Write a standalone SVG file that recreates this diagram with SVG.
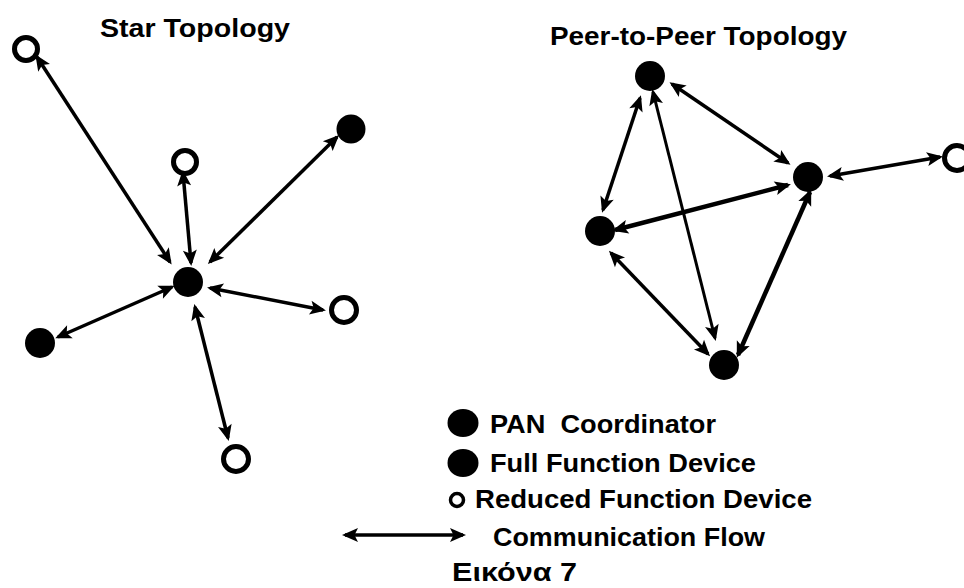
<svg xmlns="http://www.w3.org/2000/svg" width="964" height="588" viewBox="0 0 964 588">
  <style>
    .lbl { font-family: "Liberation Sans", Arial, Helvetica, sans-serif; font-weight: bold; fill: #000; white-space: pre; }
    .title { font-size: 26px; }
    .leg { font-size: 26px; }
    .full { fill: #000; }
    .rfd { fill: #fff; stroke: #000; stroke-width: 5; }
    .flow { stroke: #000; stroke-width: 3.5; fill: none; marker-start: url(#tip); marker-end: url(#tip); }
    .thick { stroke-width: 4.5; }
    .thin { stroke-width: 3; }
  </style>
  <defs>
    <marker id="tip" markerUnits="userSpaceOnUse" markerWidth="18" markerHeight="16" refX="13" refY="7" orient="auto-start-reverse" overflow="visible">
      <path d="M0,0 L16,7 L0,14 L3.5,7 Z" fill="#000"/>
    </marker>
  </defs>
  <rect width="964" height="588" fill="#fff"/>

  <!-- titles -->
  <text class="lbl title" x="100" y="37" textLength="190" lengthAdjust="spacingAndGlyphs">Star Topology</text>
  <text class="lbl title" x="550" y="45" textLength="297" lengthAdjust="spacingAndGlyphs">Peer-to-Peer Topology</text>

  <!-- communication flows -->
  <g id="connectors">
    <!-- star -->
    <line class="flow" x1="37" y1="57" x2="170" y2="262"/>
    <line class="flow" x1="183" y1="173" x2="191" y2="263"/>
    <line class="flow" x1="337" y1="137" x2="210" y2="262"/>
    <line class="flow" x1="58" y1="337" x2="172" y2="287"/>
    <line class="flow" x1="210" y1="288" x2="323" y2="310"/>
    <line class="flow" x1="195" y1="307" x2="228" y2="438"/>
    <!-- peer-to-peer -->
    <line class="flow" x1="640" y1="98" x2="603" y2="210"/>
    <line class="flow" x1="672" y1="84" x2="788" y2="163"/>
    <line class="flow thin" x1="653" y1="92" x2="715" y2="338"/>
    <line class="flow thick" x1="615" y1="230" x2="788" y2="185"/>
    <line class="flow" x1="830" y1="176" x2="940" y2="157"/>
    <line class="flow thick" x1="810" y1="192" x2="738" y2="355"/>
    <line class="flow" x1="611" y1="253" x2="708" y2="354"/>
  </g>

  <!-- star topology nodes -->
  <g id="star-coordinator"><circle class="full" cx="188" cy="282" r="15"/></g>
  <g id="star-rfd-topleft"><circle class="rfd" cx="26" cy="49" r="11.5"/></g>
  <g id="star-rfd-top"><circle class="rfd" cx="185" cy="162" r="11.5"/></g>
  <g id="star-ffd-topright"><circle class="full" cx="351" cy="129" r="14.5"/></g>
  <g id="star-ffd-left"><circle class="full" cx="40" cy="343" r="15"/></g>
  <g id="star-rfd-right"><circle class="rfd" cx="344" cy="310" r="12.5"/></g>
  <g id="star-rfd-bottom"><circle class="rfd" cx="236" cy="459" r="12.5"/></g>

  <!-- peer-to-peer nodes -->
  <g id="p2p-top"><circle class="full" cx="650" cy="76" r="15"/></g>
  <g id="p2p-right"><circle class="full" cx="808" cy="177" r="15"/></g>
  <g id="p2p-left"><circle class="full" cx="600" cy="231" r="15"/></g>
  <g id="p2p-bottom"><circle class="full" cx="724" cy="365" r="15"/></g>
  <g id="p2p-rfd"><circle class="rfd" cx="957" cy="158" r="12.5"/></g>

  <!-- legend -->
  <g id="legend-pan">
    <ellipse class="full" cx="463" cy="423" rx="15.5" ry="14"/>
    <text class="lbl leg" x="490" y="433" textLength="226" lengthAdjust="spacingAndGlyphs">PAN  Coordinator</text>
  </g>
  <g id="legend-ffd">
    <ellipse class="full" cx="463" cy="463" rx="15.5" ry="14"/>
    <text class="lbl leg" x="490" y="472" textLength="266" lengthAdjust="spacingAndGlyphs">Full Function Device</text>
  </g>
  <g id="legend-rfd">
    <circle class="rfd" cx="457" cy="500" r="6.5" style="stroke-width:3.5"/>
    <text class="lbl leg" x="475" y="508" textLength="337" lengthAdjust="spacingAndGlyphs">Reduced Function Device</text>
  </g>
  <g id="legend-flow">
    <line class="flow" x1="345" y1="535" x2="463" y2="535"/>
    <text class="lbl leg" x="493" y="546" textLength="272" lengthAdjust="spacingAndGlyphs">Communication Flow</text>
  </g>
  <text class="lbl leg" x="452" y="581" textLength="125" lengthAdjust="spacingAndGlyphs">Εικόνα 7</text>
</svg>
